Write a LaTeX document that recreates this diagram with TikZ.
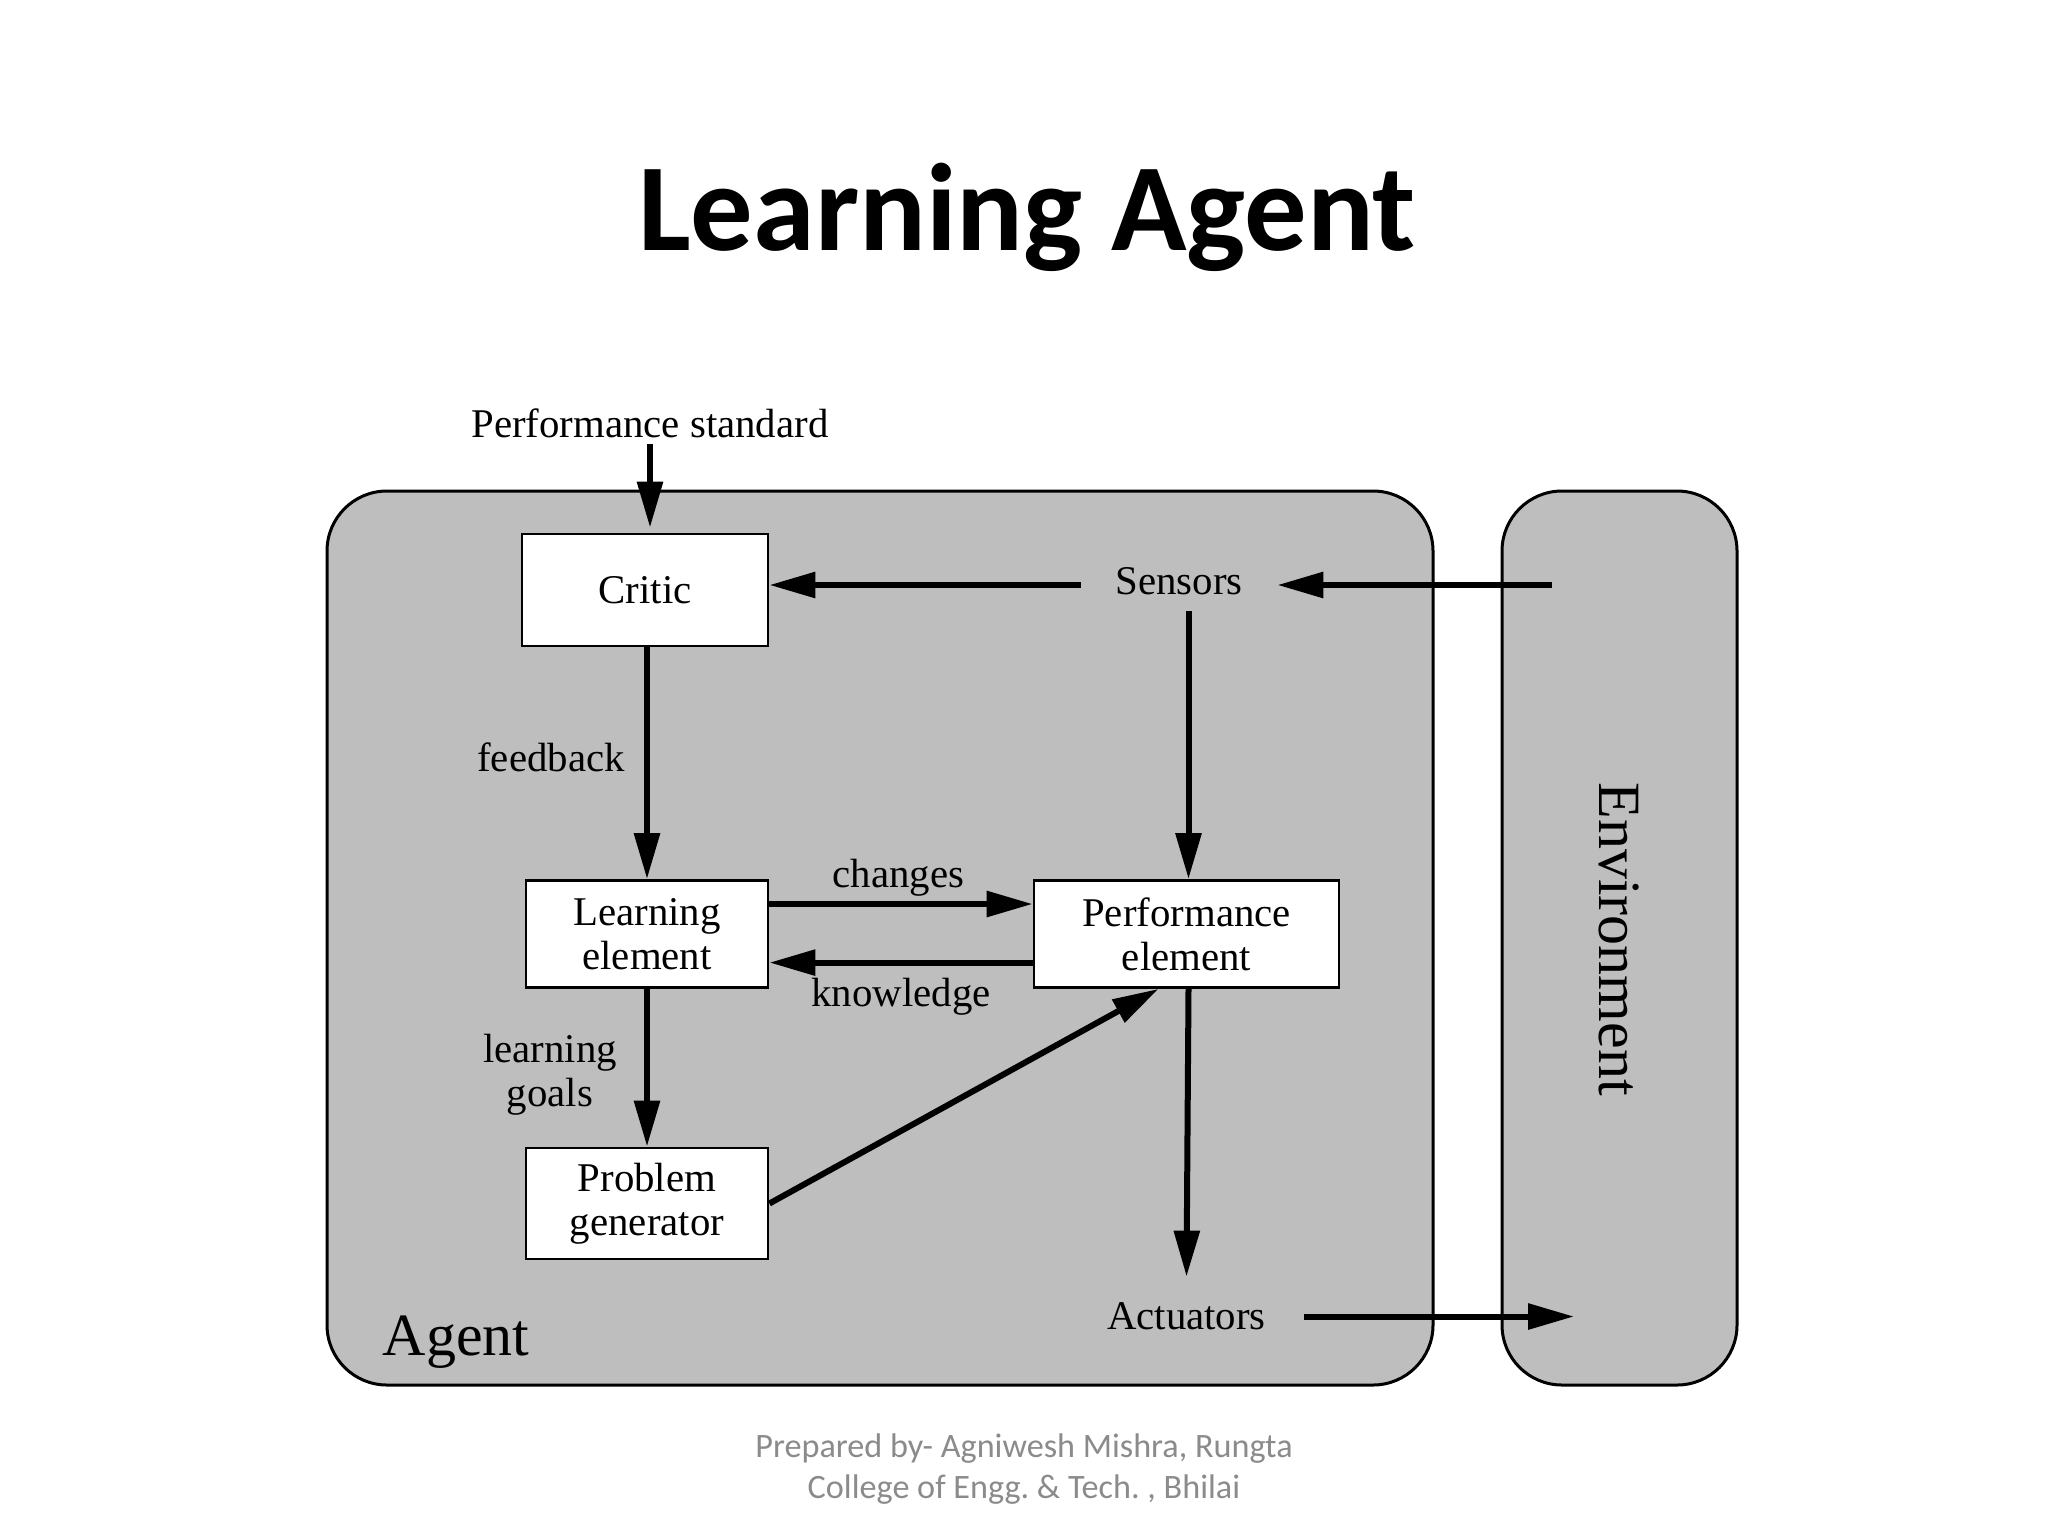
\documentclass[tikz,border=0pt]{standalone}
\usepackage{fontspec}
\usepackage{tikz}
\usetikzlibrary{arrows.meta}
\setmainfont{Liberation Serif}
\newfontfamily\slidefont{Carlito}

\tikzset{
    panel/.style={draw=black, line width=1.5pt, fill=panelgray, rounded corners=30pt, inner sep=0pt},
    block/.style={draw=black, line width=1.4pt, fill=white, align=center, inner sep=0pt, font=\fontsize{20.4}{22}\selectfont},
    tag/.style={align=center, inner sep=0pt, font=\fontsize{20.4}{22}\selectfont},
    flow/.style={line width=3pt, -{Triangle[length=23pt,width=12.5pt]}},
}
\definecolor{panelgray}{HTML}{BEBEBE}
\definecolor{footgray}{HTML}{8B8B8B}

\begin{document}
\begin{tikzpicture}[x=0.5pt, y=-0.5pt]
    \useasboundingbox (0,0) rectangle (2048,1536);

    \node[font=\slidefont\bfseries\fontsize{62.3}{70}\selectfont, inner sep=0pt] (title) at (1027,217) {Learning Agent};

    % two big panels
    \node[panel, minimum width=553pt, minimum height=447pt] (agent) at (880,938) {};
    \node[panel, minimum width=117.5pt, minimum height=447pt] (env) at (1619.5,938) {};

    % boxes
    \node[block, minimum width=123pt, minimum height=56pt] (critic) at (645,590) {Critic};
    \node[block, minimum width=121pt, minimum height=53.5pt] (learn) at (647,934) {Learning\\element};
    \node[block, minimum width=152.5pt, minimum height=53.5pt] (perf) at (1186.5,934) {Performance\\element};
    \node[block, minimum width=121pt, minimum height=55.5pt] (prob) at (647,1203.5) {Problem\\generator};

    % labels
    \node[tag] (standard) at (650,423) {Performance standard};
    \node[tag, minimum width=102pt, minimum height=30pt] (sensors) at (1179,581) {Sensors};
    \node[tag, minimum width=117.5pt, minimum height=39.5pt] (actuators) at (1186.5,1316.5) {Actuators};
    \node[tag] (feedback) at (551,757.5) {feedback};
    \node[tag] (goals) at (550,1075) {learning\\goals};
    \node[tag] (changes) at (898.5,878) {changes};
    \node[tag] (knowledge) at (901,996.5) {knowledge};
    \node[tag, font=\fontsize{30}{34}\selectfont] (agentname) at (456,1342) {Agent};
    \node[tag, font=\fontsize{30}{34}\selectfont, rotate=-90] (envname) at (1619,939) {Environment};

    \node[font=\slidefont\fontsize{17.1}{20.3}\selectfont, text=footgray, align=center, inner sep=0pt] (footer) at (1024,1469) {Prepared by- Agniwesh Mishra, Rungta\\College of Engg.\ \& Tech.\ , Bhilai};

    \coordinate (envin) at (1552,585);
    \coordinate (envout) at (1574,1316.5);

    % connectors
    \draw[flow] (standard.south |- 0,444) -- ([yshift=2.5pt]standard.south |- critic.north);
    \draw[flow] ([xshift=2pt,yshift=-2pt]sensors.west) -- (critic.east |- envin);
    \draw[flow] (envin) -- ([xshift=-2pt,yshift=-2pt]sensors.east);
    \draw[flow] ([xshift=1pt]perf.north |- sensors.south) -- ([xshift=1pt]perf.north);
    \draw[flow] (critic.south -| learn.north) -- (learn.north);
    \draw[flow] ([yshift=15pt]learn.east) -- ([yshift=15pt]perf.west);
    \draw[flow] ([yshift=-14.3pt]perf.west) -- ([yshift=-14.3pt]learn.east);
    \draw[flow] (learn.south) -- (learn.south |- prob.north);
    \draw[flow] (prob.east) -- ([xshift=-14pt]perf.south);
    \draw[flow] ([xshift=1pt]perf.south) -- (actuators.north);
    \draw[flow] (actuators.east) -- (envout);
\end{tikzpicture}
\end{document}
